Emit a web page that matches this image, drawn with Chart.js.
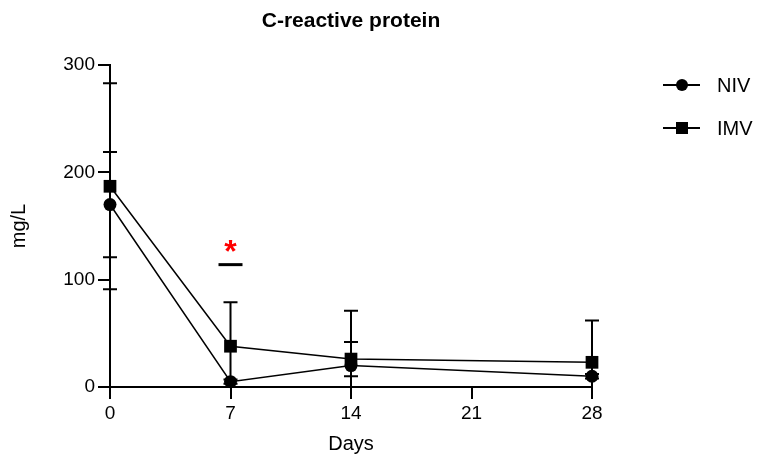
<!DOCTYPE html>
<html>
<head>
<meta charset="utf-8">
<script src="https://cdn.jsdelivr.net/npm/chart.js@4.4.1/dist/chart.umd.min.js"></script>
<style>
  html, body { margin:0; padding:0; background:#fff; }
  #wrap { width:762px; height:466px; }
</style>
</head>
<body>
<div id="wrap"><canvas id="crpChart" width="762" height="466"></canvas></div>
<script>
// values (mg/L, mean and error)
const days = [0, 7, 14, 28];
const nivMean = [170, 5, 20, 10];
const nivErr = [49, 2, 51, 2];
const imvMean = [187, 38, 26, 23];
const imvErr = [96, 41, 16, 39];
const xTicks = [0, 7, 14, 21, 28];
const yTicks = [0, 100, 200, 300];
const seriesNames = ["NIV", "IMV"];
const sigDay = 7;
const sigValue = 114;

const FONT = "'Liberation Sans', Arial, sans-serif";

function toPoints(xs, ys) {
  return xs.map((x, i) => ({ x: x, y: ys[i] }));
}

// chart title, centred over the plot area
const plotTitle = {
  id: "plotTitle",
  afterDraw(chart) {
    const ctx = chart.ctx;
    const a = chart.chartArea;
    ctx.save();
    ctx.fillStyle = "#000";
    ctx.font = "bold 21px " + FONT;
    ctx.textAlign = "center";
    ctx.textBaseline = "middle";
    ctx.fillText("C-reactive protein", (a.left + a.right) / 2, 21);
    ctx.restore();
  }
};

// vertical error bars, drawn under the markers
const errorBars = {
  id: "errorBars",
  beforeDatasetsDraw(chart) {
    const ctx = chart.ctx;
    const area = chart.chartArea;
    const ys = chart.scales.y;
    const errs = [nivErr, imvErr];
    ctx.save();
    ctx.beginPath();
    ctx.rect(area.left - 20, area.top - 20, area.right - area.left + 40, area.bottom - area.top + 20);
    ctx.clip();
    ctx.strokeStyle = "#000";
    ctx.lineWidth = 2;
    chart.data.datasets.forEach((ds, di) => {
      const meta = chart.getDatasetMeta(di);
      meta.data.forEach((pt, i) => {
        const m = ds.data[i].y;
        const e = errs[di][i];
        const top = ys.getPixelForValue(m + e);
        const bot = ys.getPixelForValue(m - e);
        ctx.beginPath();
        ctx.moveTo(pt.x, top); ctx.lineTo(pt.x, bot);
        ctx.moveTo(pt.x - 7, top); ctx.lineTo(pt.x + 7, top);
        ctx.moveTo(pt.x - 7, bot); ctx.lineTo(pt.x + 7, bot);
        ctx.stroke();
      });
    });
    ctx.restore();
  }
};

// significance mark at day 7
const sigMark = {
  id: "sigMark",
  afterDatasetsDraw(chart) {
    const ctx = chart.ctx;
    const x = chart.scales.x.getPixelForValue(sigDay);
    const y = chart.scales.y.getPixelForValue(sigValue);
    ctx.save();
    ctx.strokeStyle = "#000";
    ctx.lineWidth = 3;
    ctx.beginPath();
    ctx.moveTo(x - 12, y); ctx.lineTo(x + 12, y);
    ctx.stroke();
    ctx.fillStyle = "#ff0000";
    ctx.font = "bold 32px " + FONT;
    ctx.textAlign = "center";
    ctx.textBaseline = "middle";
    ctx.fillText("*", x, y - 11);
    ctx.restore();
  }
};

// legend with line + marker, to the right of the plot
const sideLegend = {
  id: "sideLegend",
  afterDraw(chart) {
    const ctx = chart.ctx;
    const rows = [85, 128];
    ctx.save();
    chart.data.datasets.forEach((ds, i) => {
      const y = rows[i];
      ctx.strokeStyle = "#000";
      ctx.lineWidth = 2;
      ctx.beginPath();
      ctx.moveTo(663, y); ctx.lineTo(700, y);
      ctx.stroke();
      ctx.fillStyle = "#000";
      if (ds.pointStyle === "rect") {
        ctx.fillRect(682 - 6, y - 6, 12, 12);
      } else {
        ctx.beginPath();
        ctx.arc(682, y, 6, 0, Math.PI * 2);
        ctx.fill();
      }
      ctx.font = "20px " + FONT;
      ctx.textAlign = "left";
      ctx.textBaseline = "middle";
      ctx.fillText(ds.label, 717, y + 1);
    });
    ctx.restore();
  }
};

const axisStyle = {
  border: { display: true, color: "#000", width: 2 },
  grid: { display: true, drawOnChartArea: false, drawTicks: true, tickLength: 12, color: "#000", lineWidth: 2 },
};

new Chart(document.getElementById("crpChart").getContext("2d"), {
  type: "line",
  data: {
    datasets: [
      {
        label: seriesNames[0],
        data: toPoints(days, nivMean),
        borderColor: "#000", backgroundColor: "#000", borderWidth: 1.5,
        pointStyle: "circle", pointRadius: 6.5, pointBorderWidth: 0,
        tension: 0, fill: false, clip: false
      },
      {
        label: seriesNames[1],
        data: toPoints(days, imvMean),
        borderColor: "#000", backgroundColor: "#000", borderWidth: 1.5,
        pointStyle: "rect", pointRadius: 9, pointBorderWidth: 0,
        tension: 0, fill: false, clip: false
      }
    ]
  },
  options: {
    responsive: false,
    animation: false,
    devicePixelRatio: 1,
    layout: { padding: { left: 0, right: 170, top: 65, bottom: 0 } },
    plugins: {
      legend: { display: false },
      tooltip: { enabled: false },
      title: { display: false }
    },
    scales: {
      x: Object.assign({
        type: "linear", min: 0, max: 28,
        afterBuildTicks: (s) => { s.ticks = xTicks.map(v => ({ value: v })); },
        afterFit: (s) => { s.height = 79; },
        ticks: { color: "#000", font: { family: FONT, size: 19 }, padding: 3 },
        title: { display: true, text: "Days", color: "#000", font: { family: FONT, size: 20 }, padding: { top: 0, bottom: 10 } }
      }, axisStyle),
      y: Object.assign({
        min: 0, max: 300,
        afterBuildTicks: (s) => { s.ticks = yTicks.map(v => ({ value: v })); },
        afterFit: (s) => { s.width = 110; },
        ticks: { color: "#000", font: { family: FONT, size: 19 }, padding: 3 },
        title: { display: true, text: "mg/L", color: "#000", font: { family: FONT, size: 20 }, padding: { top: 7, bottom: 0 } }
      }, axisStyle)
    }
  },
  plugins: [errorBars, sigMark, sideLegend, plotTitle]
});
</script>
</body>
</html>
